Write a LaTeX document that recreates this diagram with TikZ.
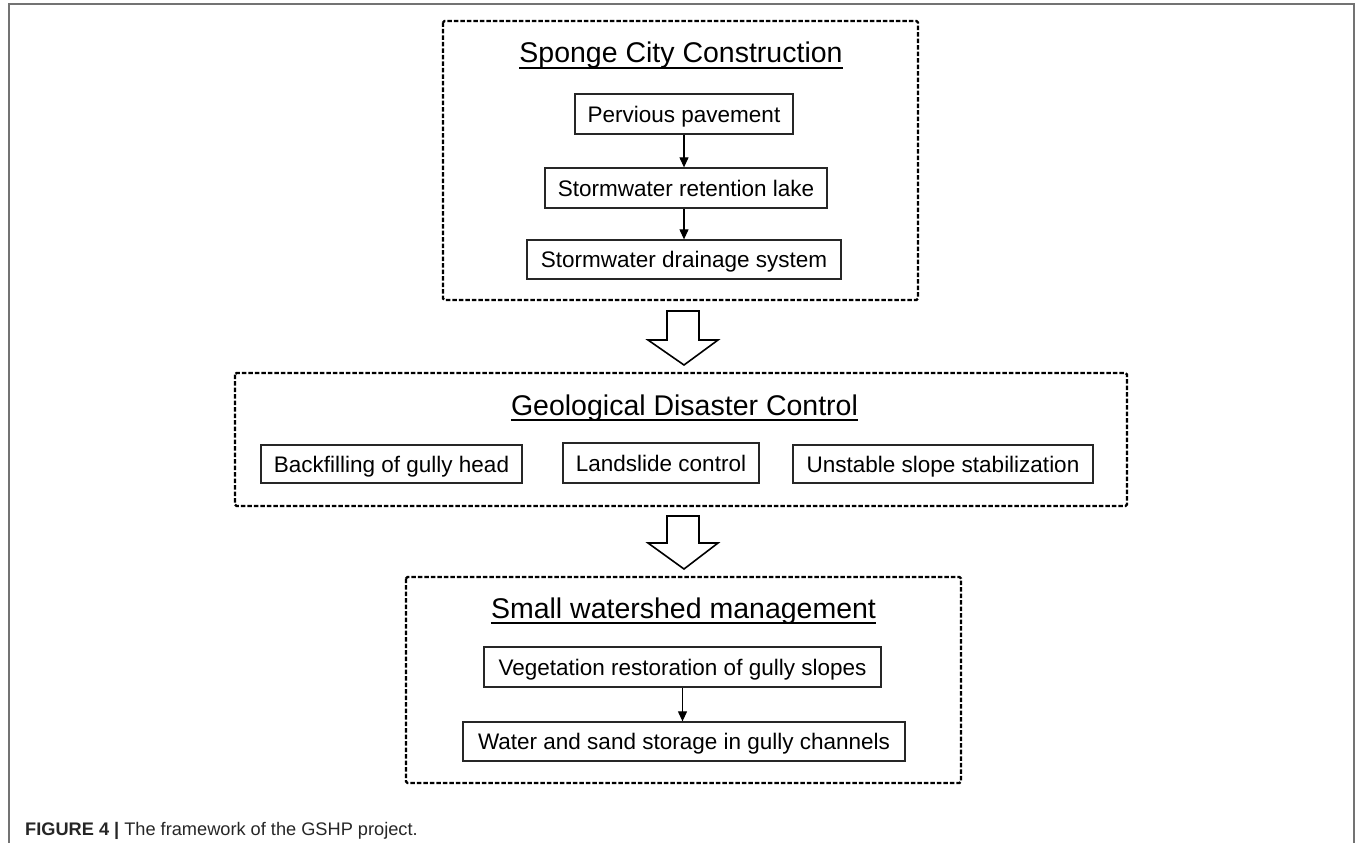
\documentclass[tikz,border=0pt]{standalone}
\usepackage{fontspec}
\setmainfont{Liberation Sans}
\usetikzlibrary{arrows.meta,calc}
\begin{document}
\begin{tikzpicture}[x=1pt,y=-1pt,
  frame/.style={draw=black!55,line width=1.4pt},
  group/.style={draw=black,line width=2.2pt,dash pattern=on 4.5pt off 2pt,rounded corners=1.5pt},
  item/.style={draw=black!85,line width=1.3pt,inner sep=0pt,align=center,
    text height=16.2pt,text depth=0pt,
    font=\fontsize{22.5}{26}\selectfont},
  title/.style={inner sep=0pt,anchor=base,font=\fontsize{28.5}{32}\selectfont},
  uline/.style={line width=1.2pt},
  link/.style={line width=1.1pt,-{Triangle[length=10pt,width=9pt]}},
  blockarrow/.style={draw=black,line width=1.6pt,fill=white,line join=miter}
]
\useasboundingbox (0,0) rectangle (1355,843);
% outer frame
\draw[frame] (9,843) -- (9,4) -- (1354,4) -- (1354,843);

% group boxes
\draw[group] (443,21) rectangle (918,300);
\draw[group] (235,373) rectangle (1127,506);
\draw[group] (406,577) rectangle (961,783);

% titles
\node[title] (t1) at (681,63) {Sponge City Construction};
\draw[uline] ($(t1.base west)+(0,5)$) -- ($(t1.base east)+(0,5)$);
\node[title] (t2) at (684.5,415) {Geological Disaster Control};
\draw[uline] ($(t2.base west)+(0,5)$) -- ($(t2.base east)+(0,5)$);
\node[title] (t3) at (683.5,618) {Small watershed management};
\draw[uline] ($(t3.base west)+(0,5)$) -- ($(t3.base east)+(0,5)$);

% sponge city items
\node[item,minimum width=218pt,minimum height=40pt] (a1) at (684,114) {Pervious pavement};
\node[item,minimum width=282pt,minimum height=40pt] (a2) at (686,188) {Stormwater retention lake};
\node[item,minimum width=314pt,minimum height=39pt] (a3) at (684,259.5) {Stormwater drainage system};
\draw[link] (a1.south) -- (a1.south |- a2.north);
\draw[link] (a1.south |- a2.south) -- (a1.south |- a3.north);

% geological items
\node[item,minimum width=261pt,minimum height=38pt] (b1) at (391.5,464) {Backfilling of gully head};
\node[item,minimum width=196pt,minimum height=40pt] (b2) at (661,463) {Landslide control};
\node[item,minimum width=300pt,minimum height=38pt] (b3) at (943,464) {Unstable slope stabilization};

% watershed items
\node[item,minimum width=397pt,minimum height=40pt] (c1) at (682.5,667) {Vegetation restoration of gully slopes};
\node[item,minimum width=442pt,minimum height=39pt] (c2) at (684,741.5) {Water and sand storage in gully channels};
\draw[link] (c1.south) -- (c1.south |- c2.north);

% block arrows
\draw[blockarrow] (667,311) -- (699,311) -- (699,340) -- (718,340) -- (684,365) -- (648,340) -- (667,340) -- cycle;
\draw[blockarrow] (667,516) -- (699,516) -- (699,543) -- (718,543) -- (684,569) -- (648,543) -- (667,543) -- cycle;

% caption
\node[inner sep=0pt,anchor=base west,text=black!85,font=\fontsize{18.2}{21}\selectfont] (cap) at (25,835)
  {\textbf{FIGURE 4 |} The framework of the GSHP project.};
\end{tikzpicture}
\end{document}
